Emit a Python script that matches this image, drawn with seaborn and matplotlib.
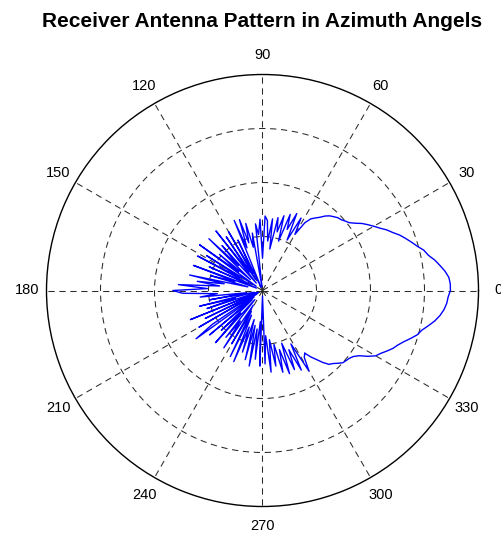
import numpy as np
import pandas as pd
import matplotlib
matplotlib.use("Agg")
import matplotlib.pyplot as plt
import seaborn as sns

# ---------------- data ----------------
# smooth main lobe, 2-degree steps from -56 to 56 deg
lobe_deg = np.arange(-56, 57, 2)
lobe_gain = [7.0, 7.6, 8.1, 8.7, 9.2, 9.4, 9.7, 10.0, 10.1, 10.2, 10.4, 10.8, 11.5,
             12.1, 12.4, 12.8, 13.2, 13.5, 13.9, 14.4, 14.9, 15.2, 15.7, 16.2, 16.6,
             16.9, 17.1, 17.2, 17.4,
             17.4, 17.3, 17.0, 16.6, 16.2, 15.7, 15.4, 14.9, 14.5, 14.1, 13.7, 13.2,
             12.8, 12.3, 11.9, 11.5, 11.1, 10.6, 10.2, 10.0, 9.8, 9.7, 9.5, 9.3, 9.0,
             8.6, 8.3, 8.0]

# noisy back region, 2-degree steps from 58 to 302 deg
back_deg = np.arange(58, 303, 2)
back_gain = [
    7.4, 6.0, 7.6, 5.2, 7.8, 6.1, 7.5, 4.8, 7.2, 5.6, 6.9, 3.9, 6.7, 4.6, 6.5, 6.9,   # 58-88
    3.0, 6.6, 5.2, 6.2, 0.4, 5.4, 4.1, 6.4, 4.6, 6.9, 4.2, 7.0, 0.3, 5.2, 1.8, 6.3,   # 90-120
    1.2, 6.0, 2.1, 7.0, 0.9, 5.6, 3.2, 6.9, 1.5, 5.2, 2.8, 7.2, 0.7, 6.1, 2.4, 6.8,   # 122-152
    1.3, 5.4, 0.6, 6.8, 2.7, 5.0, 1.4, 6.9, 3.6, 6.1, 4.0, 7.8, 5.1, 8.3, 7.4, 4.2,   # 154-184
    5.8, 1.5, 5.0, 0.8, 6.0, 2.6, 5.4, 0.5, 7.2, 0.4, 5.9, 1.0, 6.8, 0.6, 5.6, 7.6,   # 186-216
    1.0, 6.4, 1.3, 5.3, 2.9, 6.5, 1.1, 5.5, 3.5, 6.4, 1.6, 5.7, 2.2, 6.8, 2.5, 7.1,   # 218-248
    3.6, 6.0, 2.8, 6.6, 3.3, 7.1, 3.6, 6.4, 2.9, 7.0, 0.5, 6.8, 4.2, 7.6, 4.6, 7.1,   # 250-280
    5.1, 7.8, 5.7, 8.1, 5.2, 7.9, 6.0, 8.2, 5.6, 8.6, 7.3,                           # 282-302
]

ring_values = [5, 10, 15]
r_max = 20
angle_ticks = [0, 30, 60, 90, 120, 150, 180, 210, 240, 270, 300, 330]
angle_labels = [str(a) for a in angle_ticks]
title = "Receiver Antenna Pattern in Azimuth Angels"

# ---------------- frame ----------------
deg = np.concatenate([lobe_deg, back_deg, [lobe_deg[0] + 360]])
gain = np.concatenate([lobe_gain, back_gain, [lobe_gain[0]]])
df = pd.DataFrame({"theta": np.deg2rad(deg), "gain": gain})

# ---------------- plot ----------------
sns.set_style("white")
plt.rcParams["font.family"] = ["Liberation Sans", "DejaVu Sans"]

W, H = 502, 538
fig = plt.figure(figsize=(W / 100, H / 100), dpi=100)
cx, cy, R = 262.5, 290.5, 216.0
ax = fig.add_axes([(cx - R) / W, (H - cy - R) / H, 2 * R / W, 2 * R / H], projection="polar")

sns.lineplot(data=df, x="theta", y="gain", sort=False, ax=ax, color="#0000FF",
             linewidth=1.0, estimator=None)

ax.set_ylim(0, r_max)
ax.set_yticks(ring_values)
ax.set_yticklabels([])
ax.set_xticks(np.deg2rad(angle_ticks))
ax.set_xticklabels([])
ax.set_xlabel("")
ax.set_ylabel("")
ax.grid(True, color="#2a2a2a", linestyle=(0, (6, 4.5)), linewidth=0.75)
ax.spines["polar"].set_color("black")
ax.spines["polar"].set_linewidth(1.0)
ax.tick_params(length=0)

for a, lab in zip(angle_ticks, angle_labels):
    ax.text(np.deg2rad(a), r_max * 1.092, lab, ha="center", va="center",
            fontsize=10.5, color="black", clip_on=False)

fig.text(cx / W, 1 - 27 / H, title, ha="center", va="baseline",
         fontsize=15, fontweight="bold", color="black")

fig.savefig("out.png", dpi=100)
